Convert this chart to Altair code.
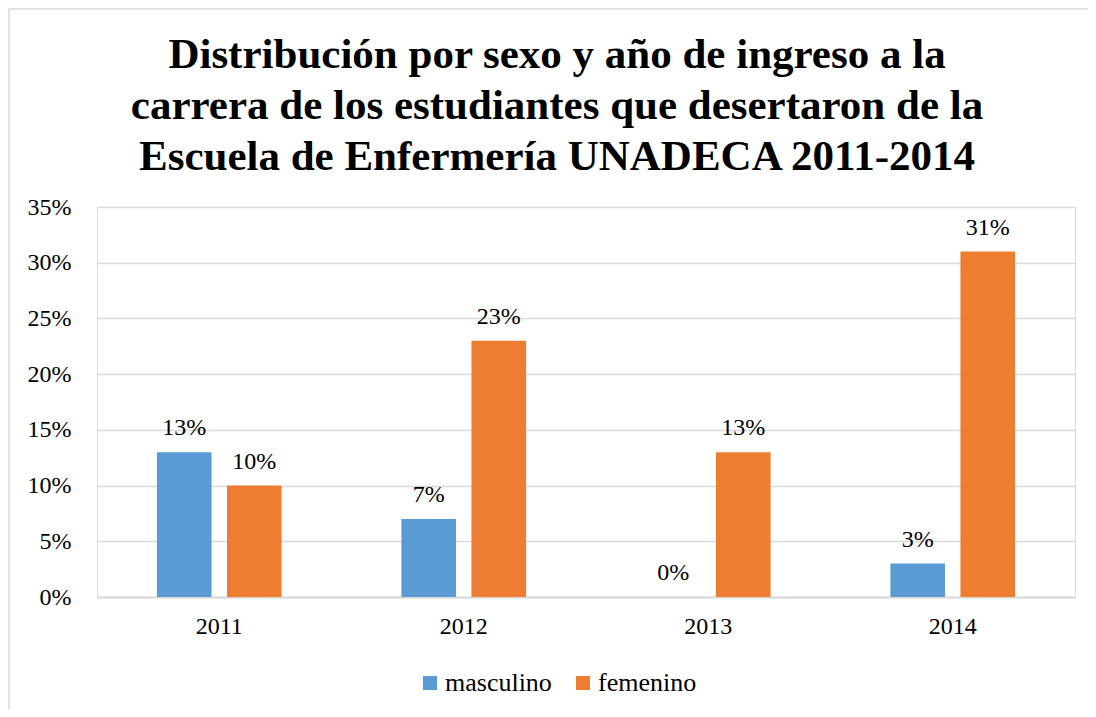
import altair as alt
import pandas as pd

years = ["2011", "2012", "2013", "2014"]
series = ["masculino", "femenino"]
masculino = [0.13, 0.07, 0.00, 0.03]
femenino = [0.10, 0.23, 0.13, 0.31]
colors = ["#5B9BD5", "#ED7D31"]

rows = []
for i, y in enumerate(years):
    rows.append({"year": y, "sexo": "masculino", "value": masculino[i]})
    rows.append({"year": y, "sexo": "femenino", "value": femenino[i]})
df = pd.DataFrame(rows)

FONT = "Liberation Serif, Times New Roman, serif"

base = alt.Chart(df).encode(
    x=alt.X("year:N", sort=years, title=None,
            scale=alt.Scale(paddingInner=0.49, paddingOuter=0.245),
            axis=alt.Axis(labelAngle=0, labelFontSize=24, labelFont=FONT, labelColor="#000000",
                          labelPadding=17, ticks=False, domain=True, domainColor="#D9D9D9",
                          domainWidth=2, grid=False)),
    xOffset=alt.XOffset("sexo:N", sort=series,
                        scale=alt.Scale(paddingInner=0.22, paddingOuter=0)),
    y=alt.Y("value:Q", title=None,
            scale=alt.Scale(domain=[0, 0.35], nice=False),
            axis=alt.Axis(format=".0%", values=[0, 0.05, 0.1, 0.15, 0.2, 0.25, 0.3, 0.35],
                          labelFontSize=24, labelFont=FONT, labelColor="#000000",
                          labelPadding=26, ticks=False, domain=False,
                          gridColor="#D9D9D9", gridWidth=1.5)),
)

bars = base.mark_bar().encode(
    color=alt.Color("sexo:N", sort=series, title=None,
                    scale=alt.Scale(domain=series, range=colors),
                    legend=alt.Legend(orient="none", legendX=320, legendY=463,
                                      direction="horizontal",
                                      symbolType="square", symbolSize=196,
                                      symbolStrokeWidth=0,
                                      labelFontSize=26, labelFont=FONT, labelColor="#000000",
                                      columnPadding=18, labelOffset=2))
)

labels = base.mark_text(baseline="bottom", dy=-12, fontSize=24, font=FONT, color="#000000").encode(
    text=alt.Text("value:Q", format=".0%")
)

border = alt.Chart(pd.DataFrame({"a": [0]})).mark_rect(
    fill=None, stroke="#D9D9D9", strokeWidth=1.5
).encode(x=alt.value(-88), x2=alt.value(1100), y=alt.value(-198), y2=alt.value(600))

chart = alt.layer(border, bars, labels).properties(
    width=978, height=390,
    autosize=alt.AutoSizeParams(type="none"),
    padding={"left": 89, "top": 199, "right": 13, "bottom": 112},
    title=alt.Title(
        ["Distribución por sexo y año de ingreso a la",
         "carrera de los estudiantes que desertaron de la",
         "Escuela de Enfermería UNADECA 2011-2014"],
        font=FONT, fontSize=43, fontWeight="bold", color="#000000",
        lineHeight=51, anchor="middle", offset=-171, dx=-29),
).configure_view(stroke=None).configure(background="white")

chart.save("out.html", embed_options={"renderer": "svg", "actions": False})
